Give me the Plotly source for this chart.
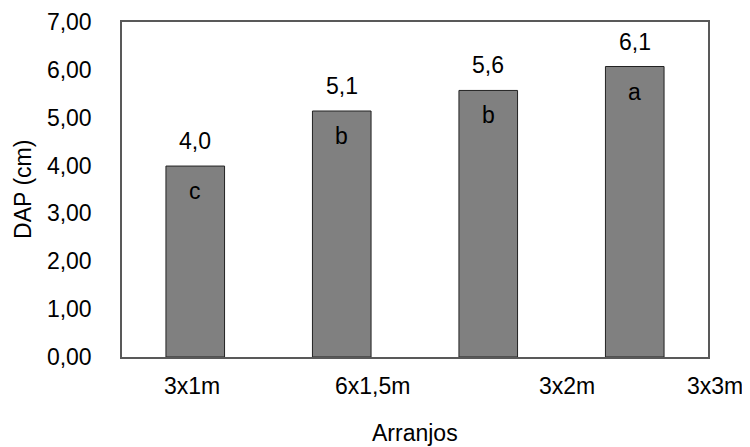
import plotly.graph_objects as go

categories = ["3x1m", "6x1,5m", "3x2m", "3x3m"]
dap_values = [3.99, 5.14, 5.57, 6.07]
value_labels = ["4,0", "5,1", "5,6", "6,1"]
letters = ["c", "b", "b", "a"]
tick_labels = ["3x1m", "6x1,5m", "3x2m", "3x3m"]
tick_label_pos = [-0.02, 1.21, 2.54, 3.55]
y_ticks = [0, 1, 2, 3, 4, 5, 6, 7]

FONT = "Liberation Sans, Arial, sans-serif"
FS = 23
x_idx = list(range(len(categories)))
x_range = [-0.5, len(categories) - 0.5]


def to_paper(v):
    return (v - x_range[0]) / (x_range[1] - x_range[0])


fig = go.Figure()
fig.add_trace(go.Bar(
    x=x_idx, y=dap_values, width=0.4,
    marker=dict(color="#808080", line=dict(color="#222222", width=1)),
    hoverinfo="skip",
))

font = dict(family=FONT, size=FS, color="#000")
annotations = []
for i, (v, vl, l) in enumerate(zip(dap_values, value_labels, letters)):
    annotations.append(dict(x=i, y=v, xref="x", yref="y", text=vl, showarrow=False,
                            xanchor="center", yanchor="middle", yshift=25, font=font))
    annotations.append(dict(x=i, y=v, xref="x", yref="y", text=l, showarrow=False,
                            xanchor="center", yanchor="middle", yshift=-25, font=font))
for p, t in zip(tick_label_pos, tick_labels):
    annotations.append(dict(x=to_paper(p), y=0, xref="paper", yref="y", text=t, showarrow=False,
                            xanchor="center", yanchor="middle", yshift=-29, font=font))
annotations.append(dict(x=0.5, y=0, xref="paper", yref="y", text="Arranjos", showarrow=False,
                        xanchor="center", yanchor="middle", yshift=-76, font=font))
annotations.append(dict(x=-0.17, y=0.5, xref="paper", yref="paper", text="DAP (cm)",
                        showarrow=False, textangle=-90, xanchor="center", yanchor="middle",
                        font=font))

fig.update_layout(
    width=742, height=439,
    margin=dict(l=114, r=42, t=12, b=90),
    paper_bgcolor="white", plot_bgcolor="white",
    separators=",.",
    showlegend=False,
    font=font,
    annotations=annotations,
    xaxis=dict(range=x_range, showticklabels=False, ticks="",
               showline=True, linecolor="#595959", linewidth=1.5, mirror=True,
               showgrid=False, zeroline=False, fixedrange=True),
    yaxis=dict(range=[0, 7], tickvals=y_ticks, tickformat=".2f", ticks="",
               ticklabelstandoff=24, automargin=False,
               showline=True, linecolor="#595959", linewidth=1.5, mirror=True,
               showgrid=False, zeroline=False,
               tickfont=font),
)

fig.write_html("out.html")
